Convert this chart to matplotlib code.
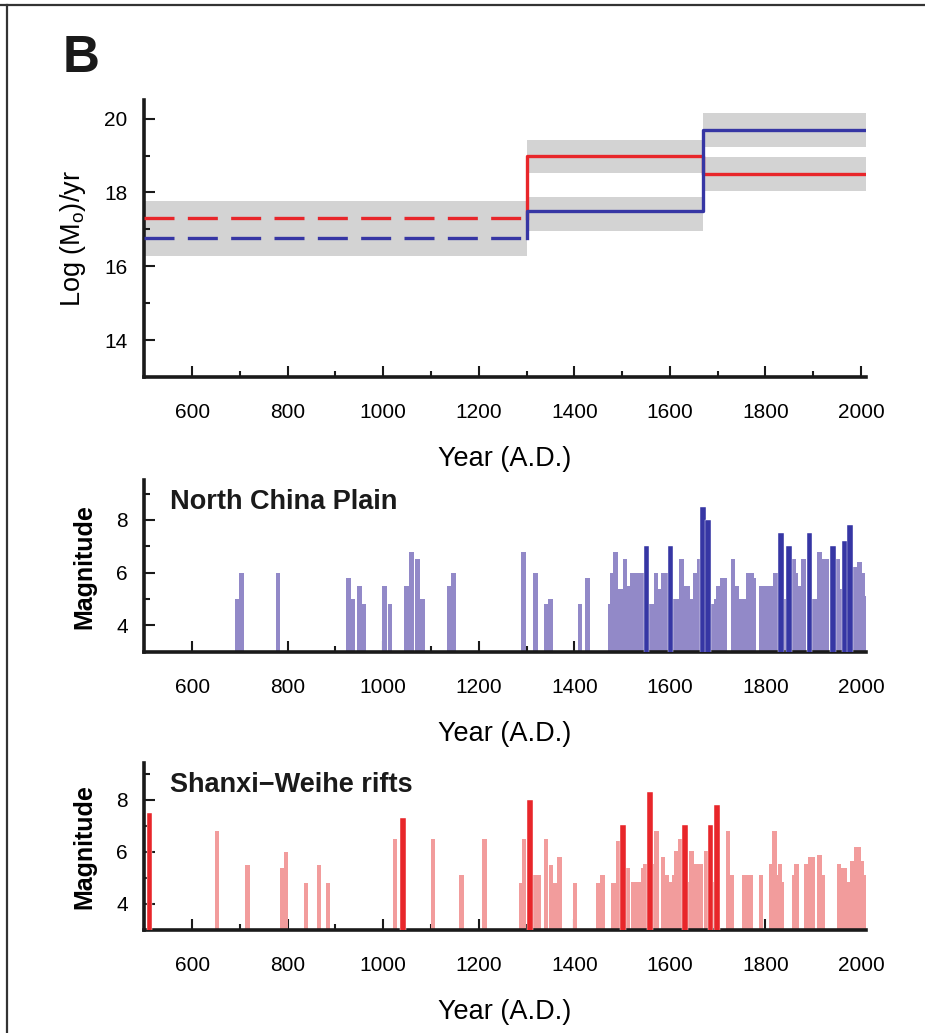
import numpy as np
import matplotlib
matplotlib.use('Agg')
import matplotlib.pyplot as plt
from matplotlib.lines import Line2D
from matplotlib.ticker import MultipleLocator

plt.rcParams['font.family'] = ['Liberation Sans', 'DejaVu Sans']

# Panel 1: moment release rate, per period
period_edges = [500, 1300, 1670, 2010]
ncp_rate = [16.78, 17.49, 19.68]
sw_rate = [17.32, 19.0, 18.51]
ncp_lo = [16.27, 16.97, 19.22]
ncp_hi = [17.78, 17.89, 20.14]
sw_lo = [16.27, 18.54, 18.05]
sw_hi = [17.78, 19.43, 18.97]

# North China Plain events (year, magnitude)
ncp_years = [694, 704, 780, 928, 936, 951, 960, 1002, 1014, 1048, 1060, 1072, 1082,
             1139, 1147, 1293, 1318, 1342, 1350, 1412, 1428,
             1475, 1479, 1486, 1493, 1498, 1506, 1514, 1522, 1530, 1538, 1543,
             1562, 1571, 1579, 1587, 1593, 1608, 1615, 1624, 1633, 1637, 1644, 1654, 1662,
             1691, 1697, 1702, 1709, 1714, 1732, 1740, 1750, 1756, 1765, 1770, 1776,
             1791, 1799, 1807, 1813, 1821, 1841, 1858, 1864, 1870, 1880,
             1903, 1913, 1922, 1929, 1952, 1957, 1986, 1990, 1997, 2003, 2008]
ncp_mags = [5.0, 6.0, 6.0, 5.8, 5.0, 5.5, 4.8, 5.5, 4.8, 5.5, 6.8, 6.5, 5.0,
            5.5, 6.0, 6.8, 6.0, 4.8, 5.0, 4.8, 5.8,
            4.8, 6.0, 6.8, 5.4, 5.4, 6.5, 5.5, 6.0, 6.0, 6.0, 6.0,
            4.8, 6.0, 5.4, 6.0, 6.0, 5.0, 5.0, 6.5, 5.5, 5.5, 5.0, 6.0, 6.5,
            4.8, 5.0, 5.5, 5.8, 5.8, 6.5, 5.5, 5.0, 5.0, 6.0, 6.0, 5.8,
            5.5, 5.5, 5.5, 5.5, 6.0, 5.0, 6.5, 6.0, 5.5, 6.5,
            5.0, 6.8, 6.5, 6.5, 6.5, 5.4, 6.2, 5.6, 6.4, 6.0, 5.1]
ncp_big_years = [1551, 1601, 1669, 1680, 1832, 1849, 1892, 1941, 1966, 1977]
ncp_big_mags = [7.0, 7.0, 8.5, 8.0, 7.5, 7.0, 7.5, 7.0, 7.2, 7.8]

# Shanxi-Weihe rifts events
sw_years = [652, 716, 789, 797, 839, 866, 884, 1024, 1104, 1164, 1212,
            1288, 1295, 1317, 1325, 1340, 1351, 1360, 1369, 1402, 1450, 1459,
            1482, 1491, 1513, 1524, 1534, 1544, 1549, 1566, 1572, 1585, 1593, 1599,
            1608, 1614, 1621, 1639, 1645, 1654, 1664, 1676, 1692, 1722, 1729,
            1755, 1763, 1770, 1791, 1811, 1819, 1825, 1830, 1835, 1861, 1865,
            1885, 1893, 1899, 1913, 1920, 1954, 1962, 1967, 1974, 1982, 1989,
            1995, 2002, 2009]
sw_mags = [6.8, 5.5, 5.4, 6.0, 4.8, 5.5, 4.8, 6.5, 6.5, 5.1, 6.5,
           4.8, 6.5, 5.1, 5.1, 6.5, 5.5, 4.8, 5.8, 4.8, 4.8, 5.1,
           4.8, 6.4, 5.4, 4.85, 4.85, 5.4, 5.55, 5.55, 6.8, 5.8, 5.1, 4.85,
           5.1, 6.05, 6.5, 4.85, 6.05, 5.55, 5.55, 6.05, 4.85, 6.8, 5.1,
           5.1, 5.1, 5.1, 5.1, 5.55, 6.8, 5.1, 5.55, 4.85, 5.1, 5.55,
           5.55, 5.8, 5.8, 5.9, 5.1, 5.55, 5.4, 5.4, 4.85, 5.65, 6.2,
           6.2, 5.65, 5.1]
sw_big_years = [511, 1041, 1307, 1502, 1559, 1631, 1685, 1698]
sw_big_mags = [7.5, 7.3, 8.0, 7.05, 8.3, 7.05, 7.05, 7.8]

red = '#e8262a'
blue = '#3636a4'
band = '#d3d3d3'
ncp_light = '#9289c8'
sw_light = '#f29c9c'

fig = plt.figure(figsize=(9.25, 10.33), dpi=100)
ax1 = fig.add_axes([0.156, 0.635, 0.78, 0.268])
ax2 = fig.add_axes([0.156, 0.369, 0.78, 0.166])
ax3 = fig.add_axes([0.156, 0.0997, 0.78, 0.1613])


def style(ax):
    for s in ['top', 'right']:
        ax.spines[s].set_visible(False)
    for s in ['left', 'bottom']:
        ax.spines[s].set_linewidth(2.6)
        ax.spines[s].set_color('#1a1a1a')
    ax.set_xlim(500, 2010)
    ax.xaxis.set_major_locator(MultipleLocator(200))
    ax.xaxis.set_minor_locator(MultipleLocator(100))
    ax.tick_params(which='both', direction='in', width=1.5, colors='#1a1a1a',
                   labelsize=15, labelcolor='black')
    ax.tick_params(which='major', length=8)
    ax.tick_params(which='minor', length=4)
    ax.tick_params(axis='x', which='major', pad=19)
    ax.tick_params(axis='y', which='major', pad=12)
    ax.set_xticks(range(600, 2001, 200))
    ax.set_xlabel('Year (A.D.)', fontsize=19.5, labelpad=17)


# --- top panel ---
style(ax1)
for i in range(3):
    x0, x1 = period_edges[i], period_edges[i + 1]
    ax1.fill_between([x0, x1], sw_lo[i], sw_hi[i], color=band, lw=0, zorder=1)
    ax1.fill_between([x0, x1], ncp_lo[i], ncp_hi[i], color=band, lw=0, zorder=1)

for rate, col in [(sw_rate, red), (ncp_rate, blue)]:
    ax1.plot(period_edges[:2], [rate[0], rate[0]], color=col, lw=2.4,
             dashes=(9, 4), zorder=3)
    ax1.plot([period_edges[1], period_edges[1], period_edges[2], period_edges[2], period_edges[3]],
             [rate[0], rate[1], rate[1], rate[2], rate[2]], color=col, lw=2.4, zorder=3)

ax1.set_ylim(13, 20.5)
ax1.yaxis.set_major_locator(MultipleLocator(2))
ax1.yaxis.set_minor_locator(MultipleLocator(1))
ax1.set_ylabel(r'Log (M$_\mathregular{o}$)/yr', fontsize=19.5, labelpad=12)

# --- North China Plain ---
style(ax2)
ax2.bar(ncp_years, ncp_mags, width=10, color=ncp_light, lw=0, zorder=2)
ax2.bar(ncp_big_years, ncp_big_mags, width=12, color=blue, edgecolor='white', lw=0.3, zorder=3)
ax2.set_ylim(3, 9.5)
ax2.yaxis.set_major_locator(MultipleLocator(2))
ax2.yaxis.set_minor_locator(MultipleLocator(1))
ax2.set_ylabel('Magnitude', fontsize=18, fontweight='bold', labelpad=14)
ax2.text(0.035, 0.95, 'North China Plain', transform=ax2.transAxes, fontsize=19.5,
         fontweight='bold', va='top', ha='left', color='#1a1a1a')

# --- Shanxi-Weihe rifts ---
style(ax3)
ax3.bar(sw_years, sw_mags, width=9, color=sw_light, lw=0, zorder=2)
ax3.bar(sw_big_years, sw_big_mags, width=12, color=red, edgecolor='white', lw=0.3, zorder=3)
ax3.set_ylim(3, 9.4)
ax3.yaxis.set_major_locator(MultipleLocator(2))
ax3.yaxis.set_minor_locator(MultipleLocator(1))
ax3.set_ylabel('Magnitude', fontsize=18, fontweight='bold', labelpad=14)
ax3.text(0.035, 0.95, 'Shanxi\u2212Weihe rifts', transform=ax3.transAxes, fontsize=19.5,
         fontweight='bold', va='top', ha='left', color='#1a1a1a')

# panel letter and frame
fig.text(0.068, 0.930, 'B', fontsize=37, fontweight='bold', color='#1a1a1a')
fig.add_artist(Line2D([0, 1], [0.995, 0.995], transform=fig.transFigure, color='#333333', lw=1.6))
fig.add_artist(Line2D([0.0075, 0.0075], [0, 0.995], transform=fig.transFigure, color='#333333', lw=1.6))

fig.savefig('out.png', dpi=100)
